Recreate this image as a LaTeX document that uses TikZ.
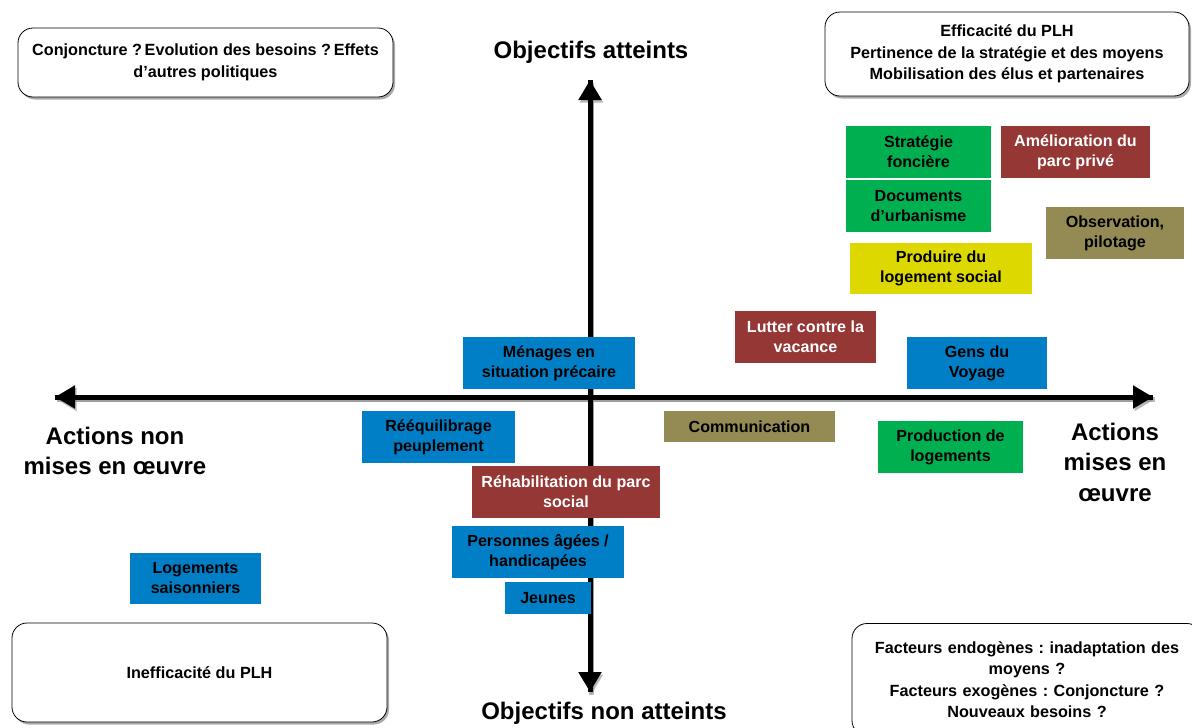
\documentclass[tikz,border=0pt]{standalone}
\usepackage{fontspec}
\setmainfont{Liberation Sans}
\usetikzlibrary{arrows.meta,shadows}
\definecolor{cblue}{RGB}{0,126,198}
\definecolor{cgreen}{RGB}{0,176,80}
\definecolor{cred}{RGB}{149,55,53}
\definecolor{colive}{RGB}{148,138,84}
\definecolor{cyellow}{RGB}{221,217,0}
\frenchspacing
\begin{document}
\begin{tikzpicture}[x=1pt,y=-1pt,
  box/.style={rectangle, inner sep=0pt, align=center, font=\fontsize{16.1}{20}\selectfont\bfseries},
  blu/.style={box, fill=cblue, text=black},
  grn/.style={box, fill=cgreen, text=black},
  red/.style={box, fill=cred, text=white},
  oli/.style={box, fill=colive, text=black},
  yel/.style={box, fill=cyellow, text=black},
  rbox/.style={draw=black, line width=0.8pt, rounded corners=15pt, fill=white, align=center, inner sep=0pt,
    font=\fontsize{16.2}{21.5}\selectfont\bfseries,
    drop shadow={shadow xshift=2pt, shadow yshift=-2.5pt, fill=black!55, opacity=0.6}},
  big/.style={font=\fontsize{24}{30.5}\selectfont\bfseries, align=center, inner sep=0pt},
  axis/.style={line width=5pt, -{Triangle[length=20pt,width=22pt]}},
  axshadow/.style={line width=5pt, draw=black!45, opacity=0.6, -{Triangle[length=20pt,width=22pt]}}]
\useasboundingbox (0,0) rectangle (1192,728);

% axes
\coordinate (xl) at (55,397);
\coordinate (xr) at (1153,397);
\coordinate (yt) at (590,80);
\coordinate (yb) at (590,692);
\draw[axshadow, transform canvas={xshift=1.5pt,yshift=-2.5pt}] (xl) -- (xr);
\draw[axshadow, transform canvas={xshift=1.5pt,yshift=-2.5pt}] (yb) -- (yt);
\draw[axshadow, transform canvas={xshift=1.5pt,yshift=-2.5pt}] (yt) -- (yb);
\draw[axshadow, transform canvas={xshift=1.5pt,yshift=-2.5pt}] (xr) -- (xl);
\draw[axis] (xl) -- (xr);
\draw[axis] (xr) -- (xl);
\draw[axis] (yb) -- (yt);
\draw[axis] (yt) -- (yb);

% axis labels
\node[big] (otop) at (591,52) {Objectifs atteints};
\node[big] (obot) at (604,713) {Objectifs non atteints};
\node[big] (aleft) at (115,451) {Actions non\\mises en œuvre};
\node[big] (aright) at (1115,462) {Actions\\mises en\\œuvre};

% corner boxes
\node[rbox, minimum width=375pt, minimum height=69pt] (tl) at (205.5,62.5)
  {Conjoncture ?\,Evolution des besoins ?\,Effets\\d’autres politiques};
\node[rbox, minimum width=364pt, minimum height=84pt] (tr) at (1007,54)
  {Efficacité du PLH\\Pertinence de la stratégie et des moyens\\Mobilisation des élus et partenaires};
\node[rbox, minimum width=375pt, minimum height=99pt] (bl) at (199.5,672.5)
  {Inefficacité du PLH};
\node[rbox, minimum width=350pt, minimum height=112pt, text width=340pt] (br) at (1027,679.5)
  {Facteurs endogènes : inadaptation des\\moyens ?\\Facteurs exogènes : Conjoncture ?\\Nouveaux besoins ?};

% action boxes
\node[grn, minimum width=145pt, minimum height=52pt] (strat) at (918.5,152) {Stratégie\\foncière};
\node[grn, minimum width=145pt, minimum height=52pt] (docs) at (918.5,206) {Documents\\d’urbanisme};
\node[red, minimum width=149pt, minimum height=52pt] (amel) at (1075.5,152) {Amélioration du\\parc privé};
\node[oli, minimum width=138pt, minimum height=52pt] (obs) at (1115,233) {Observation,\\pilotage};
\node[yel, minimum width=182pt, minimum height=51pt] (prod) at (941,268.5) {Produire du\\logement social};
\node[red, minimum width=141pt, minimum height=52pt] (lutter) at (805.5,337) {Lutter contre la\\vacance};
\node[blu, minimum width=140pt, minimum height=52pt] (gens) at (977,363) {Gens du\\Voyage};
\node[oli, minimum width=171pt, minimum height=31pt] (comm) at (749.5,426.5) {Communication};
\node[grn, minimum width=145pt, minimum height=52pt] (prodlog) at (950.5,447) {Production de\\logements};
\node[blu, minimum width=172pt, minimum height=52pt] (men) at (549,363) {Ménages en\\situation précaire};
\node[blu, minimum width=153pt, minimum height=52pt] (reeq) at (438.5,437) {Rééquilibrage\\peuplement};
\node[red, minimum width=188pt, minimum height=52pt] (rehab) at (566,492) {Réhabilitation du parc\\social};
\node[blu, minimum width=172pt, minimum height=52pt] (pers) at (538,552) {Personnes âgées /\\handicapées};
\node[blu, minimum width=86pt, minimum height=32pt] (jeunes) at (548,598) {Jeunes};
\node[blu, minimum width=131pt, minimum height=51pt] (saison) at (195.5,578.5) {Logements\\saisonniers};
\end{tikzpicture}
\end{document}
